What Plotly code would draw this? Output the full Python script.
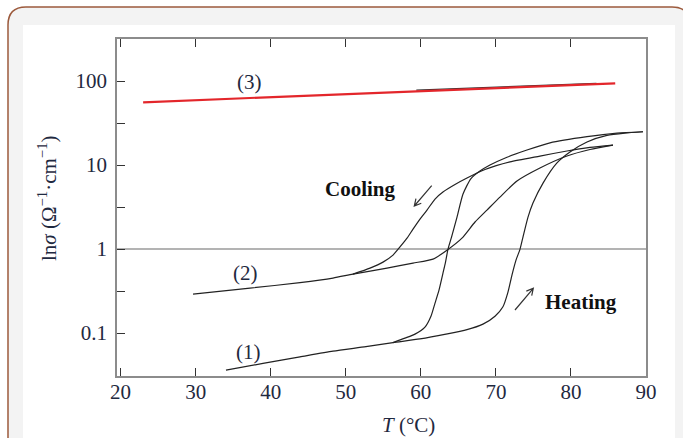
import plotly.graph_objects as go
import numpy as np

# ---------------- data ----------------
# sample (3): nearly straight line, red
t3 = [23.0, 35.0, 50.0, 65.0, 85.9]
s3 = [55.8, 61.6, 69.8, 79.0, 93.9]
# sample (3): dark trace visible just above the red one
t3b = [59.4, 71.0, 83.4]
s3b = [78.1, 85.7, 93.9]

# sample (1): heating branch
t1h = [34.04, 38.97, 43.90, 48.30, 52.69, 56.29, 59.89, 63.35, 66.15, 68.28,
       69.88, 70.94, 71.61, 72.14, 72.68, 73.21, 73.61, 74.28, 74.94, 76.28,
       78.14, 79.87, 82.14, 84.80, 87.20, 89.60]
s1h = [0.0363, 0.0436, 0.0522, 0.0611, 0.0690, 0.0771, 0.0853, 0.0973, 0.110, 0.128,
       0.159, 0.206, 0.308, 0.490, 0.740, 0.992, 1.39, 2.40, 3.53, 6.1,
       10.6, 14.3, 18.8, 22.5, 24.0, 24.9]
# sample (1): cooling branch
t1c = [89.60, 86.14, 82.14, 77.21, 74.14, 71.48, 69.21, 67.88, 66.68, 65.62,
       64.82, 64.09, 63.62, 63.29, 62.95, 62.42, 61.89, 61.35, 60.55, 59.22,
       57.89, 56.29]
s1c = [24.9, 24.0, 21.8, 18.4, 15.1, 12.4, 10.0, 8.48, 6.91, 4.52,
       2.40, 1.39, 1.0, 0.700, 0.518, 0.325, 0.228, 0.159, 0.118, 0.0973,
       0.0872, 0.0771]

# sample (2): heating branch
t2h = [29.65, 37.24, 43.90, 48.30, 50.96, 55.49, 58.96, 61.62, 63.62, 65.48,
       67.22, 68.81, 70.54, 72.81, 75.87, 79.47, 82.54, 85.60]
s2h = [0.291, 0.343, 0.399, 0.452, 0.504, 0.594, 0.681, 0.760, 0.99, 1.35,
       2.10, 2.91, 4.16, 6.45, 9.21, 12.8, 15.3, 17.3]
# sample (2): cooling branch
t2c = [85.60, 82.54, 79.47, 75.87, 71.88, 68.55, 66.15, 64.55, 62.95, 61.89,
       60.82, 59.89, 58.96, 58.16, 57.22, 56.29, 54.96, 53.23, 50.96]
s2c = [17.3, 16.2, 14.7, 12.8, 10.9, 8.84, 7.0, 5.86, 4.77, 3.94,
       2.91, 2.28, 1.73, 1.35, 1.06, 0.849, 0.700, 0.594, 0.504]

# axes
x_range = [19.52, 90.0]
y_log_range = [-1.51, 2.5]
x_ticks = [20, 30, 40, 50, 60, 70, 80, 90]
y_ticks = [0.1, 1, 10, 100]
y_minor_ticks = [0.316, 3.16, 31.6]
ref_level = 1.0

# ---------------- figure ----------------
W, H = 683, 438
ML, MR, MT, MB = 117, 37, 39, 62
PW, PH = W - ML - MR, H - MT - MB

def px(x):
    return (x - ML) / PW

def py(y):
    return (H - MB - y) / PH

SERIF = "Liberation Serif, Times New Roman, serif"
TXT = "#1f2940"
LINE = "#222222"
FS = 21

fig = go.Figure()

fig.add_trace(go.Scatter(x=x_range, y=[ref_level, ref_level], mode="lines",
                         line=dict(color="#9a9a9a", width=1.5), hoverinfo="skip"))
fig.add_trace(go.Scatter(x=t3b, y=s3b, mode="lines", line=dict(color="#333333", width=1.3)))
fig.add_trace(go.Scatter(x=t3, y=s3, mode="lines", line=dict(color="#e3262b", width=2.2)))
for tx, sy in [(t1h, s1h), (t1c, s1c), (t2h, s2h), (t2c, s2c)]:
    fig.add_trace(go.Scatter(x=tx, y=sy, mode="lines",
                             line=dict(color=LINE, width=1.2, shape="spline", smoothing=0.6)))

# frame decoration (rounded border, gray band, white panel)
def rrect(x0, y0, x1, y1, r):
    pts = [
        ("M", (x0 + r, y0)), ("L", (x1 - r, y0)), ("Q", (x1, y0), (x1, y0 + r)),
        ("L", (x1, y1 - r)), ("Q", (x1, y1), (x1 - r, y1)), ("L", (x0 + r, y1)),
        ("Q", (x0, y1), (x0, y1 - r)), ("L", (x0, y0 + r)), ("Q", (x0, y0), (x0 + r, y0)),
    ]
    s = ""
    for p in pts:
        s += p[0] + " ".join("%.5f,%.5f" % (px(a), py(b)) for a, b in p[1:]) + " "
    return s + "Z"

shapes = [
    dict(type="path", path=rrect(8, 7, 690, 480, 18), xref="paper", yref="paper",
         fillcolor="#f3f3f3", line=dict(color="#9c5a3c", width=1.5), layer="below"),
    dict(type="rect", x0=px(23), x1=px(675), y0=py(25), y1=py(470), xref="paper", yref="paper",
         fillcolor="white", line=dict(width=0), layer="below"),
]

# arrows drawn as open-headed line shapes (pixel positions -> paper)
def arrow(tail, head, hl=7.5, ang=28):
    (x0, y0), (x1, y1) = tail, head
    d = np.hypot(x1 - x0, y1 - y0)
    ux, uy = (x0 - x1) / d, (y0 - y1) / d
    segs = []
    for s in (1, -1):
        a = np.radians(ang) * s
        rx = ux * np.cos(a) - uy * np.sin(a)
        ry = ux * np.sin(a) + uy * np.cos(a)
        segs.append((x1 + rx * hl, y1 + ry * hl))
    path = "M%.5f,%.5f L%.5f,%.5f M%.5f,%.5f L%.5f,%.5f L%.5f,%.5f" % (
        px(x0), py(y0), px(x1), py(y1),
        px(segs[0][0]), py(segs[0][1]), px(x1), py(y1), px(segs[1][0]), py(segs[1][1]))
    return dict(type="path", path=path, xref="paper", yref="paper",
                line=dict(color="#333333", width=1.2), layer="above")

shapes.append(arrow((431.7, 185.7), (414.3, 206.0)))
shapes.append(arrow((515.0, 310.0), (533.3, 288.3)))

ann = []
def label(text, T, v, bold=False):
    t = "<b>%s</b>" % text if bold else text
    ann.append(dict(x=T, y=np.log10(v), xref="x", yref="y", text=t, showarrow=False,
                    font=dict(family=SERIF, size=FS, color=TXT if not bold else "#111111")))

label("(3)", 37.2, 10 ** 1.992)
label("(2)", 36.6, 10 ** -0.289)
label("(1)", 37.0, 10 ** -1.223)
label("Cooling", 51.9, 10 ** 0.714, bold=True)
label("Heating", 81.4, 10 ** -0.627, bold=True)

# axis titles
ann.append(dict(x=px(47), y=py(198), xref="paper", yref="paper", textangle=-90,
                text="ln<i>σ</i> (Ω<sup>−1</sup>·cm<sup>−1</sup>)", showarrow=False,
                font=dict(family=SERIF, size=FS, color=TXT), xanchor="center", yanchor="middle"))
ann.append(dict(x=px(408), y=py(425), xref="paper", yref="paper",
                text="<i>T</i> (°C)", showarrow=False,
                font=dict(family=SERIF, size=FS, color=TXT), xanchor="center", yanchor="middle"))

fig.update_layout(
    width=W, height=H, margin=dict(l=ML, r=MR, t=MT, b=MB, pad=0),
    paper_bgcolor="white", plot_bgcolor="rgba(0,0,0,0)",
    showlegend=False, shapes=shapes, annotations=ann,
)
fig.update_xaxes(range=x_range, tickvals=x_ticks, ticks="inside", ticklen=8, tickwidth=1.2,
                 tickcolor="#333333", showline=True, linecolor="#8c8c8c", linewidth=1.6,
                 mirror="ticks", showgrid=False, zeroline=False, ticklabelstandoff=-4,
                 tickfont=dict(family=SERIF, size=FS, color=TXT))
fig.update_yaxes(type="log", range=y_log_range, tickvals=y_ticks,
                 ticks="inside", ticklen=8, tickwidth=1.2, tickcolor="#333333",
                 minor=dict(tickvals=y_minor_ticks, ticks="inside", ticklen=8, tickwidth=1.2,
                            tickcolor="#333333", showgrid=False),
                 showline=True, linecolor="#8c8c8c", linewidth=1.6, mirror=True,
                 showgrid=False, zeroline=False, ticklabelstandoff=4,
                 tickfont=dict(family=SERIF, size=FS, color=TXT))

fig.write_html("out.html")
